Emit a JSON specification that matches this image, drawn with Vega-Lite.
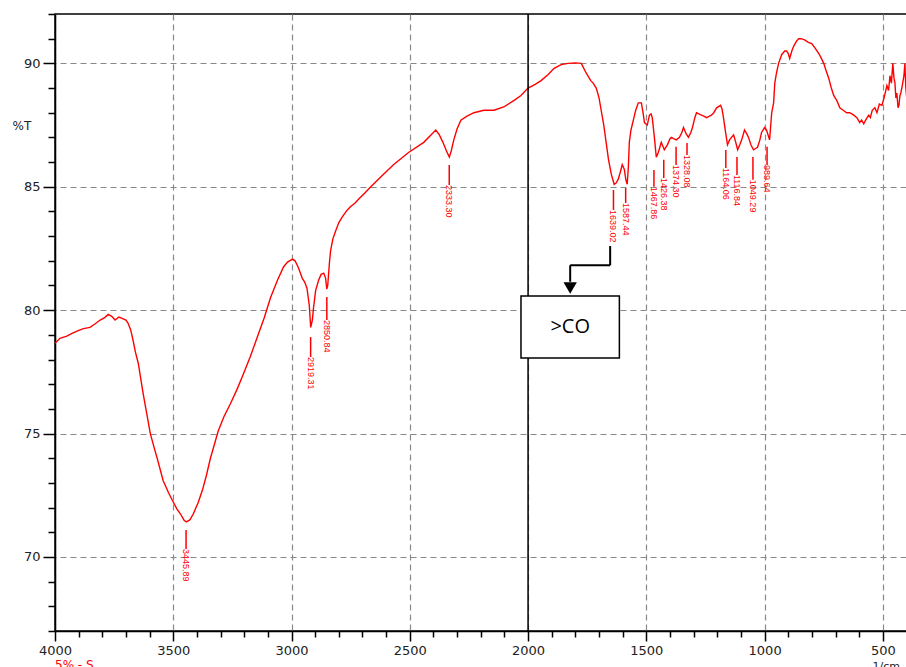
{
  "$schema": "https://vega.github.io/schema/vega-lite/v6.json",
  "width": 861,
  "height": 617,
  "autosize": {"type": "none"},
  "padding": {"left": 55, "top": 14, "right": 0, "bottom": 36},
  "background": "white",
  "config": {
    "view": {"stroke": "#000", "strokeWidth": 1.5},
    "axis": {"labelFont": "DejaVu Sans", "titleFont": "DejaVu Sans", "domainColor": "#000", "tickColor": "#000", "domainWidth": 1.5, "tickWidth": 1.5, "labelColor": "#222", "titleColor": "#222"}
  },
  "datasets": {
    "spectrum": [
      {"wn":4000,"t":78.66},{"wn":3979,"t":78.86},{"wn":3950,"t":78.95},{"wn":3930,"t":79.05},{"wn":3907,"t":79.15},{"wn":3880,"t":79.25},{"wn":3852,"t":79.3},{"wn":3830,"t":79.45},{"wn":3809,"t":79.6},{"wn":3790,"t":79.7},{"wn":3775,"t":79.83},{"wn":3760,"t":79.75},{"wn":3746,"t":79.6},{"wn":3730,"t":79.72},{"wn":3716,"t":79.67},{"wn":3700,"t":79.6},{"wn":3691,"t":79.47},{"wn":3680,"t":79.2},{"wn":3670,"t":78.78},{"wn":3660,"t":78.3},{"wn":3648,"t":77.85},{"wn":3627,"t":76.6},{"wn":3610,"t":75.7},{"wn":3597,"t":75.0},{"wn":3580,"t":74.4},{"wn":3568,"t":74.0},{"wn":3543,"t":73.1},{"wn":3520,"t":72.6},{"wn":3504,"t":72.3},{"wn":3485,"t":71.95},{"wn":3470,"t":71.75},{"wn":3455,"t":71.5},{"wn":3445,"t":71.42},{"wn":3430,"t":71.5},{"wn":3415,"t":71.75},{"wn":3395,"t":72.2},{"wn":3377,"t":72.7},{"wn":3360,"t":73.3},{"wn":3343,"t":74.0},{"wn":3325,"t":74.6},{"wn":3310,"t":75.1},{"wn":3285,"t":75.7},{"wn":3259,"t":76.2},{"wn":3230,"t":76.8},{"wn":3204,"t":77.4},{"wn":3175,"t":78.1},{"wn":3145,"t":78.9},{"wn":3115,"t":79.7},{"wn":3089,"t":80.5},{"wn":3060,"t":81.2},{"wn":3034,"t":81.75},{"wn":3017,"t":81.95},{"wn":2996,"t":82.07},{"wn":2985,"t":82.0},{"wn":2970,"t":81.7},{"wn":2955,"t":81.3},{"wn":2945,"t":81.15},{"wn":2935,"t":80.9},{"wn":2925,"t":80.2},{"wn":2919,"t":79.3},{"wn":2912,"t":79.6},{"wn":2907,"t":80.1},{"wn":2898,"t":80.8},{"wn":2886,"t":81.2},{"wn":2875,"t":81.45},{"wn":2864,"t":81.5},{"wn":2856,"t":81.3},{"wn":2851,"t":80.85},{"wn":2847,"t":81.0},{"wn":2840,"t":81.9},{"wn":2835,"t":82.4},{"wn":2825,"t":82.9},{"wn":2814,"t":83.2},{"wn":2800,"t":83.55},{"wn":2784,"t":83.8},{"wn":2765,"t":84.05},{"wn":2750,"t":84.2},{"wn":2730,"t":84.35},{"wn":2716,"t":84.5},{"wn":2690,"t":84.75},{"wn":2665,"t":85.0},{"wn":2623,"t":85.4},{"wn":2568,"t":85.9},{"wn":2504,"t":86.4},{"wn":2441,"t":86.8},{"wn":2390,"t":87.3},{"wn":2375,"t":87.1},{"wn":2360,"t":86.8},{"wn":2345,"t":86.45},{"wn":2333,"t":86.2},{"wn":2325,"t":86.45},{"wn":2314,"t":86.9},{"wn":2300,"t":87.35},{"wn":2284,"t":87.7},{"wn":2260,"t":87.85},{"wn":2229,"t":88.0},{"wn":2187,"t":88.1},{"wn":2144,"t":88.1},{"wn":2100,"t":88.25},{"wn":2059,"t":88.5},{"wn":2030,"t":88.7},{"wn":2000,"t":89.0},{"wn":1970,"t":89.15},{"wn":1945,"t":89.3},{"wn":1915,"t":89.55},{"wn":1890,"t":89.8},{"wn":1860,"t":89.95},{"wn":1831,"t":90.0},{"wn":1800,"t":90.02},{"wn":1775,"t":90.0},{"wn":1754,"t":89.6},{"wn":1735,"t":89.3},{"wn":1725,"t":89.2},{"wn":1712,"t":89.0},{"wn":1700,"t":88.6},{"wn":1691,"t":88.1},{"wn":1680,"t":87.5},{"wn":1670,"t":86.8},{"wn":1660,"t":86.1},{"wn":1648,"t":85.5},{"wn":1636,"t":85.1},{"wn":1628,"t":85.15},{"wn":1619,"t":85.3},{"wn":1610,"t":85.6},{"wn":1602,"t":85.9},{"wn":1593,"t":85.7},{"wn":1587,"t":85.3},{"wn":1581,"t":85.1},{"wn":1576,"t":85.8},{"wn":1572,"t":86.8},{"wn":1565,"t":87.3},{"wn":1555,"t":87.7},{"wn":1545,"t":88.1},{"wn":1534,"t":88.4},{"wn":1521,"t":88.4},{"wn":1514,"t":88.0},{"wn":1508,"t":87.6},{"wn":1496,"t":87.5},{"wn":1487,"t":87.9},{"wn":1480,"t":87.95},{"wn":1475,"t":87.8},{"wn":1466,"t":87.0},{"wn":1458,"t":86.2},{"wn":1449,"t":86.4},{"wn":1437,"t":86.8},{"wn":1424,"t":86.5},{"wn":1411,"t":86.7},{"wn":1400,"t":86.95},{"wn":1394,"t":87.0},{"wn":1385,"t":86.95},{"wn":1373,"t":86.9},{"wn":1360,"t":87.0},{"wn":1350,"t":87.2},{"wn":1343,"t":87.4},{"wn":1332,"t":87.15},{"wn":1322,"t":87.0},{"wn":1312,"t":87.2},{"wn":1305,"t":87.4},{"wn":1295,"t":87.8},{"wn":1288,"t":88.0},{"wn":1278,"t":87.95},{"wn":1267,"t":87.9},{"wn":1255,"t":87.85},{"wn":1246,"t":87.8},{"wn":1235,"t":87.85},{"wn":1225,"t":87.9},{"wn":1215,"t":88.0},{"wn":1203,"t":88.2},{"wn":1186,"t":88.3},{"wn":1180,"t":88.15},{"wn":1174,"t":87.8},{"wn":1165,"t":87.2},{"wn":1157,"t":86.7},{"wn":1148,"t":86.9},{"wn":1140,"t":87.0},{"wn":1131,"t":87.1},{"wn":1122,"t":86.8},{"wn":1114,"t":86.5},{"wn":1105,"t":86.7},{"wn":1097,"t":86.9},{"wn":1085,"t":87.3},{"wn":1076,"t":87.15},{"wn":1068,"t":87.0},{"wn":1058,"t":86.7},{"wn":1047,"t":86.5},{"wn":1038,"t":86.55},{"wn":1030,"t":86.6},{"wn":1020,"t":86.9},{"wn":1013,"t":87.2},{"wn":1000,"t":87.4},{"wn":992,"t":87.3},{"wn":987,"t":87.15},{"wn":979,"t":86.9},{"wn":970,"t":88.0},{"wn":962,"t":88.4},{"wn":957,"t":89.2},{"wn":950,"t":89.6},{"wn":941,"t":90.0},{"wn":928,"t":90.35},{"wn":915,"t":90.5},{"wn":907,"t":90.5},{"wn":900,"t":90.4},{"wn":894,"t":90.2},{"wn":885,"t":90.5},{"wn":877,"t":90.7},{"wn":865,"t":90.9},{"wn":856,"t":91.0},{"wn":845,"t":91.0},{"wn":831,"t":90.95},{"wn":815,"t":90.85},{"wn":801,"t":90.8},{"wn":785,"t":90.6},{"wn":771,"t":90.4},{"wn":760,"t":90.2},{"wn":750,"t":90.0},{"wn":740,"t":89.7},{"wn":729,"t":89.4},{"wn":718,"t":89.0},{"wn":708,"t":88.7},{"wn":695,"t":88.5},{"wn":682,"t":88.2},{"wn":668,"t":88.1},{"wn":653,"t":88.0},{"wn":640,"t":88.0},{"wn":623,"t":87.9},{"wn":610,"t":87.8},{"wn":598,"t":87.6},{"wn":590,"t":87.7},{"wn":581,"t":87.55},{"wn":570,"t":87.75},{"wn":560,"t":87.9},{"wn":553,"t":87.8},{"wn":545,"t":88.1},{"wn":534,"t":88.2},{"wn":525,"t":88.0},{"wn":515,"t":88.35},{"wn":504,"t":88.3},{"wn":495,"t":88.6},{"wn":483,"t":89.1},{"wn":476,"t":88.9},{"wn":470,"t":89.5},{"wn":464,"t":89.2},{"wn":458,"t":90.0},{"wn":453,"t":89.4},{"wn":449,"t":89.2},{"wn":445,"t":88.6},{"wn":441,"t":88.8},{"wn":436,"t":88.2},{"wn":432,"t":88.3},{"wn":428,"t":88.7},{"wn":424,"t":88.8},{"wn":418,"t":89.1},{"wn":411,"t":89.5},{"wn":407,"t":90.0},{"wn":403,"t":89.0},{"wn":399,"t":88.6},{"wn":395,"t":88.9},{"wn":390,"t":88.7},{"wn":380,"t":89.0},{"wn":370,"t":88.8},{"wn":360,"t":88.9}
    ],
    "peaks": [
      {"wn":3445.89,"t":71.09,"t2":70.32,"label":"3445.89"},
      {"wn":2919.31,"t":78.91,"t2":78.10,"label":"2919.31"},
      {"wn":2850.84,"t":80.53,"t2":79.60,"label":"2850.84"},
      {"wn":2333.30,"t":85.88,"t2":85.07,"label":"2333.30"},
      {"wn":1639.02,"t":84.87,"t2":84.06,"label":"1639.02"},
      {"wn":1587.44,"t":84.95,"t2":84.34,"label":"1587.44"},
      {"wn":1467.86,"t":85.68,"t2":85.0,"label":"1467.86"},
      {"wn":1426.38,"t":86.09,"t2":85.36,"label":"1426.38"},
      {"wn":1374.30,"t":86.62,"t2":85.88,"label":"1374.30"},
      {"wn":1328.08,"t":86.77,"t2":86.29,"label":"1328.08"},
      {"wn":1164.06,"t":86.49,"t2":85.76,"label":"1164.06"},
      {"wn":1116.84,"t":86.21,"t2":85.48,"label":"1116.84"},
      {"wn":1049.29,"t":86.21,"t2":85.28,"label":"1049.29"},
      {"wn":989.64,"t":86.62,"t2":85.88,"label":"989.64"}
    ],
    "arrow": [
      {"wn":1653,"t":82.6,"wn2":1653,"t2":81.82},
      {"wn":1653,"t":81.82,"wn2":1822,"t2":81.82},
      {"wn":1822,"t":81.82,"wn2":1822,"t2":81.15}
    ],
    "head": [{"wn":1822,"t":80.9}],
    "box": [{"wn":2030,"wn2":1614,"t":80.57,"t2":78.06}],
    "boxlabel": [{"wn":1822,"t":79.3,"label":">CO"}],
    "divider": [{"wn":2000}],
    "sample": [{"wn":4000,"t":65.62,"label":"5% - S"}]
  },
  "layer": [
    {
      "data": {"name": "spectrum"},
      "mark": {"type": "line", "color": "#ff0000", "strokeWidth": 1.4, "interpolate": "linear"},
      "encoding": {
        "x": {
          "field": "wn", "type": "quantitative",
          "scale": {"domain": [360, 4000], "reverse": true, "nice": false, "zero": false},
          "axis": {
            "orient": "bottom",
            "values": [400,500,600,700,800,900,1000,1100,1200,1300,1400,1500,1600,1700,1800,1900,2000,2100,2200,2300,2400,2500,2600,2700,2800,2900,3000,3100,3200,3300,3400,3500,3600,3700,3800,3900,4000],
            "tickCount": 500,
            "format": "d",
            "labelExpr": "datum.value % 500 === 0 ? datum.label : ''",
            "tickSize": {"condition": {"test": "datum.value % 500 === 0", "value": 10}, "value": 6},
            "grid": true,
            "gridOpacity": {"condition": {"test": "datum.value % 500 === 0", "value": 1}, "value": 0},
            "gridDash": [6, 4],
            "gridColor": "#888",
            "gridWidth": 1.2,
            "labelFontSize": 13,
            "labelPadding": 3,
            "labelFlush": false,
            "labelOverlap": false,
            "title": "1/cm",
            "titleX": 817,
            "titleY": 35,
            "titleAlign": "left",
            "titleBaseline": "middle",
            "titleFontSize": 11,
            "titleFontWeight": "normal"
          }
        },
        "y": {
          "field": "t", "type": "quantitative",
          "scale": {"domain": [67, 92], "nice": false, "zero": false},
          "axis": {
            "orient": "left",
            "values": [67,68,69,70,71,72,73,74,75,76,77,78,79,80,81,82,83,84,85,86,87,88,89,90,91,92],
            "tickCount": 500,
            "format": "d",
            "labelExpr": "datum.value % 5 === 0 ? datum.label : ''",
            "tickSize": {"condition": {"test": "datum.value % 5 === 0", "value": 12}, "value": 7},
            "grid": true,
            "gridOpacity": {"condition": {"test": "datum.value % 5 === 0", "value": 1}, "value": 0},
            "gridDash": [6, 4],
            "gridColor": "#888",
            "gridWidth": 1.2,
            "labelFontSize": 13,
            "labelPadding": 3,
            "labelFlush": false,
            "labelOverlap": false,
            "title": "%T",
            "titleAngle": 0,
            "titleX": -43,
            "titleY": 111,
            "titleAlign": "left",
            "titleBaseline": "middle",
            "titleFontSize": 12,
            "titleFontWeight": "normal"
          }
        }
      }
    },
    {
      "data": {"name": "divider"},
      "mark": {"type": "rule", "color": "#000", "strokeWidth": 1.5},
      "encoding": {"x": {"field": "wn", "type": "quantitative"}}
    },
    {
      "data": {"name": "peaks"},
      "mark": {"type": "rule", "color": "#ff0000", "strokeWidth": 1.5},
      "encoding": {
        "x": {"field": "wn", "type": "quantitative"},
        "y": {"field": "t", "type": "quantitative"},
        "y2": {"field": "t2"}
      }
    },
    {
      "data": {"name": "peaks"},
      "mark": {"type": "text", "color": "#ff0000", "angle": 90, "align": "left", "baseline": "middle", "font": "Liberation Sans", "fontSize": 9},
      "encoding": {
        "x": {"field": "wn", "type": "quantitative"},
        "y": {"field": "t2", "type": "quantitative"},
        "text": {"field": "label"}
      }
    },
    {
      "data": {"name": "box"},
      "mark": {"type": "rect", "fill": "white", "stroke": "#000", "strokeWidth": 1.5},
      "encoding": {
        "x": {"field": "wn", "type": "quantitative"},
        "x2": {"field": "wn2"},
        "y": {"field": "t", "type": "quantitative"},
        "y2": {"field": "t2"}
      }
    },
    {
      "data": {"name": "boxlabel"},
      "mark": {"type": "text", "color": "#000", "font": "Open Sans", "fontSize": 20, "align": "center", "baseline": "middle"},
      "encoding": {
        "x": {"field": "wn", "type": "quantitative"},
        "y": {"field": "t", "type": "quantitative"},
        "text": {"field": "label"}
      }
    },
    {
      "data": {"name": "arrow"},
      "mark": {"type": "rule", "color": "#000", "strokeWidth": 2},
      "encoding": {
        "x": {"field": "wn", "type": "quantitative"},
        "y": {"field": "t", "type": "quantitative"},
        "x2": {"field": "wn2"},
        "y2": {"field": "t2"}
      }
    },
    {
      "data": {"name": "head"},
      "mark": {"type": "point", "shape": "triangle-down", "filled": true, "color": "#000", "opacity": 1, "size": 180},
      "encoding": {
        "x": {"field": "wn", "type": "quantitative"},
        "y": {"field": "t", "type": "quantitative"}
      }
    },
    {
      "data": {"name": "sample"},
      "mark": {"type": "text", "color": "#ff0000", "font": "DejaVu Sans", "fontSize": 12, "align": "left", "baseline": "middle"},
      "encoding": {
        "x": {"field": "wn", "type": "quantitative"},
        "y": {"field": "t", "type": "quantitative"},
        "text": {"field": "label"}
      }
    }
  ]
}
